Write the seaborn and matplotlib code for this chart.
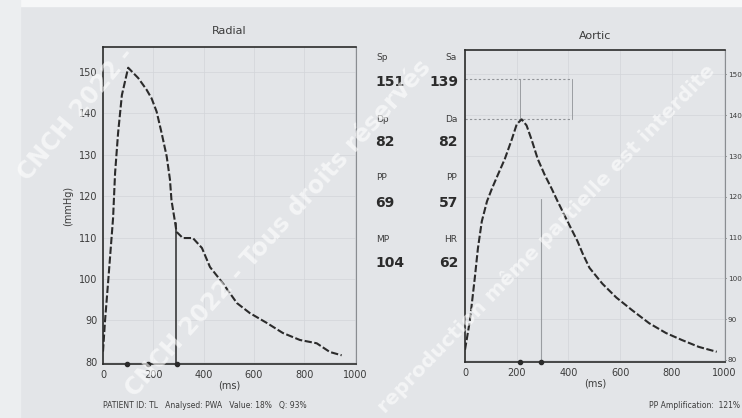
import matplotlib
matplotlib.use("Agg")
import matplotlib.pyplot as plt
import numpy as np
import pandas as pd
import seaborn as sns

# Radial pulse waveform (one averaged beat)
radial_ms = [0, 8, 20, 40, 48, 60, 75, 100, 140, 173, 193, 213, 233, 253, 266, 272,
             286, 292, 317, 357, 393, 425, 476, 532, 583, 651, 714, 782, 849, 901, 948]
radial_mmHg = [82.5, 89.9, 99.0, 114.7, 125.6, 135.3, 144.4, 151.0, 148.5, 145.7, 143.6,
               140.4, 135.2, 129.6, 124.0, 119.0, 113.8, 111.4, 109.9, 109.9, 107.5, 102.9,
               99.0, 94.2, 91.8, 89.4, 87.0, 85.3, 84.5, 82.4, 81.6]

# Derived central aortic waveform
aortic_ms = [0, 19, 38, 50, 65, 85, 104, 127, 154, 181, 200, 219, 238, 258, 281, 308, 335,
             358, 396, 435, 454, 481, 531, 585, 646, 712, 777, 838, 904, 973]
aortic_mmHg = [82.5, 89.7, 100.2, 107.4, 114.0, 118.9, 122.0, 125.4, 129.3, 134.1, 137.8,
               139.0, 137.5, 133.9, 129.3, 125.4, 122.0, 118.9, 114.0, 109.1, 106.2, 102.6,
               98.7, 95.3, 92.2, 89.0, 86.6, 84.9, 83.2, 82.0]

# Timing markers and end-systole (notch) times
radial_marks_ms = [95, 180, 292]
aortic_marks_ms = [212, 292]
radial_notch_ms = 290
radial_notch_mmHg = 113.5
aortic_notch_ms = 295
aortic_notch_mmHg = 119.5

# Summary parameters
radial_stat_names = ["Sp", "Dp", "PP", "MP"]
radial_stats = [151, 82, 69, 104]
aortic_stat_names = ["Sa", "Da", "PP", "HR"]
aortic_stats = [139, 82, 57, 62]

y_ticks = [80, 90, 100, 110, 120, 130, 140, 150]
x_ticks = [0, 200, 400, 600, 800, 1000]

sns.set_theme(style="white")
plt.rcParams["font.family"] = ["DejaVu Sans"]

BG = "#e3e5e8"
INK = "#2b2b2b"
TXT = "#3c3c3c"

W, H = 742, 418
fig = plt.figure(figsize=(W / 100, H / 100), dpi=100, facecolor=BG)

def fx(px):
    return px / W

def fy(py):
    return 1 - py / H

# page edges
fig.patches.append(plt.Rectangle((0, fy(6)), 1, 6 / H, transform=fig.transFigure,
                                 color="#f6f7f8", zorder=0))
fig.patches.append(plt.Rectangle((0, 0), fx(20), 1, transform=fig.transFigure,
                                 color="#eceef0", zorder=0))

ax1 = fig.add_axes([fx(103), fy(364), fx(253), (364 - 47) / H])
ax2 = fig.add_axes([fx(465), fy(362), fx(260), (362 - 50) / H])

radial = pd.DataFrame({"ms": radial_ms, "mmHg": radial_mmHg})
aortic = pd.DataFrame({"ms": aortic_ms, "mmHg": aortic_mmHg})

ylim = (79.5, 156)
xlim = (0, 1005)

for ax, df in ((ax1, radial), (ax2, aortic)):
    ax.set_facecolor(BG)
    ax.grid(True, color="#d2d5d9", lw=0.5)
    sns.lineplot(data=df, x="ms", y="mmHg", ax=ax, color=INK, lw=1.5,
                 linestyle=(0, (3.5, 1.2)), zorder=3)
    ax.set_xlim(*xlim)
    ax.set_ylim(*ylim)
    ax.set_xticks(x_ticks)
    ax.set_yticks(y_ticks)
    ax.tick_params(labelsize=7, colors=TXT, length=2, width=0.6, pad=2)
    ax.set_xlabel("(ms)", fontsize=7, color=TXT, labelpad=1)
    for s in ("left", "bottom", "top"):
        ax.spines[s].set_color(INK)
        ax.spines[s].set_linewidth(1.2)
    ax.spines["right"].set_color("#8a8d91")
    ax.spines["right"].set_linewidth(0.8)

ax1.set_ylabel("(mmHg)", fontsize=7, color=TXT, labelpad=4)
ax1.set_title("Radial", fontsize=8, color=TXT, pad=9)
ax2.set_title("Aortic", fontsize=8, color=TXT, pad=8)
ax2.set_ylabel("")
ax2.yaxis.tick_right()
ax2.tick_params(axis="y", labelsize=5.2, pad=1, length=1)

# end-systole lines
ax1.plot([radial_notch_ms, radial_notch_ms], [ylim[0], radial_notch_mmHg],
         color=INK, lw=1.1, zorder=2)
ax2.plot([aortic_notch_ms, aortic_notch_ms], [ylim[0], aortic_notch_mmHg],
         color="#9a9da1", lw=0.8, zorder=2)

# peak reference box on the aortic panel
ax2.plot([0, 412], [149, 149], color="#8f9296", lw=0.8, ls=(0, (2, 2)), zorder=2)
ax2.plot([0, 412], [139, 139], color="#8f9296", lw=0.8, ls=(0, (2, 2)), zorder=2)
ax2.plot([212, 212], [139, 149], color="#9a9da1", lw=0.7, zorder=2)
ax2.plot([412, 412], [139, 149], color="#9a9da1", lw=0.7, zorder=2)

# timing markers on the time axis
ax1.scatter(radial_marks_ms, [ylim[0]] * len(radial_marks_ms), s=9, color=INK,
            clip_on=False, zorder=5)
ax2.scatter(aortic_marks_ms, [ylim[0]] * len(aortic_marks_ms), s=9, color=INK,
            clip_on=False, zorder=5)

# parameter column between the panels
label_rows = [58, 120, 178, 240]
value_rows = [82, 142, 203, 263]
for i in range(4):
    fig.text(fx(376), fy(label_rows[i]), radial_stat_names[i], fontsize=6.5, color=TXT,
             ha="left", va="center")
    fig.text(fx(375), fy(value_rows[i]), str(radial_stats[i]), fontsize=10,
             fontweight="bold", color=INK, ha="left", va="center")
    fig.text(fx(457), fy(label_rows[i]), aortic_stat_names[i], fontsize=6.5, color=TXT,
             ha="right", va="center")
    fig.text(fx(458), fy(value_rows[i]), str(aortic_stats[i]), fontsize=10,
             fontweight="bold", color=INK, ha="right", va="center")

# footer lines
fig.text(fx(205), fy(405), "PATIENT ID: TL   Analysed: PWA   Value: 18%   Q: 93%",
         fontsize=5.5, color=TXT, ha="center", va="center")
pp_amp = round(radial_stats[2] / aortic_stats[2] * 100)
fig.text(fx(740), fy(405), f"PP Amplification:  {pp_amp}%", fontsize=5.5, color=TXT,
         ha="right", va="center")

# copyright overlay
wm = dict(fontweight="bold", color="white", alpha=0.6,
          rotation_mode="anchor", ha="left", va="baseline", zorder=10)
fig.text(fx(28), fy(182), "CNCH 2022 -", rotation=50, fontsize=17, **wm)
fig.text(fx(135), fy(398), "CNCH 2022 - Tous droits réservés", rotation=48, fontsize=17, **wm)
fig.text(fx(385), fy(414), "reproduction même partielle est interdite", rotation=46,
         fontsize=14.5, **wm)

fig.savefig("out.png", dpi=100, facecolor=BG)
